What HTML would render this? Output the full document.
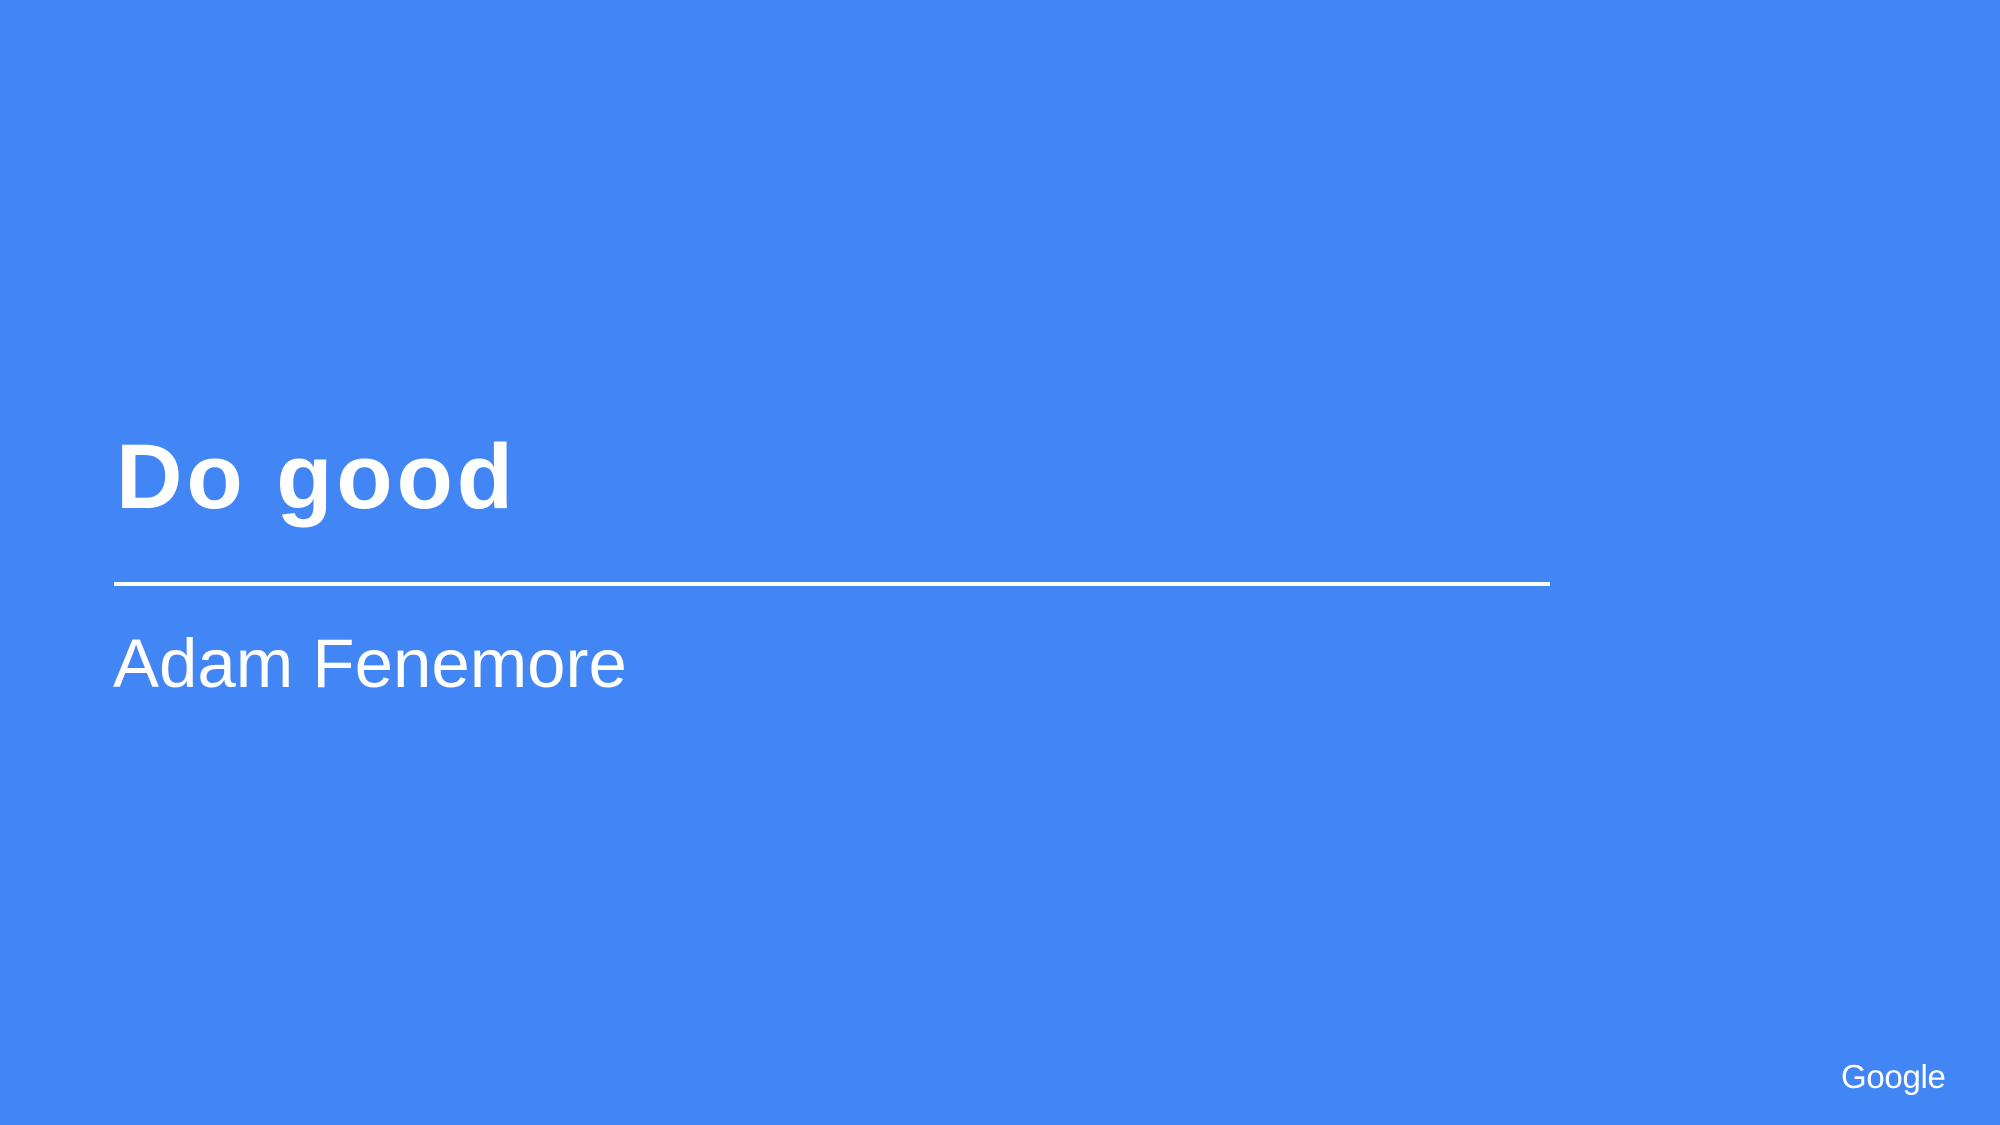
<!DOCTYPE html>
<html>
<head>
<meta charset="utf-8">
<style>
  html, body { margin: 0; padding: 0; }
  body {
    width: 2000px; height: 1125px; overflow: hidden;
    background: #4285F4; position: relative;
    font-family: "Liberation Sans", sans-serif; color: #fff;
  }
  .title {
    position: absolute; left: 116px; top: 431px;
    font-size: 92px; font-weight: bold; line-height: 1; margin: 0;
    white-space: nowrap; letter-spacing: 4px;
  }
  .rule {
    position: absolute; left: 114px; top: 582px; width: 1436px; height: 4px;
    background: #fff;
  }
  .subtitle {
    position: absolute; left: 113px; top: 629px;
    font-size: 69px; line-height: 1; white-space: nowrap;
  }
  .logo {
    position: absolute; left: 1841px; top: 1060px;
    font-size: 33px; line-height: 1; white-space: nowrap; letter-spacing: -0.3px;
  }
</style>
</head>
<body>
  <h1 class="title">Do good</h1>
  <div class="rule"></div>
  <div class="subtitle">Adam Fenemore</div>
  <div class="logo">Google</div>
</body>
</html>
